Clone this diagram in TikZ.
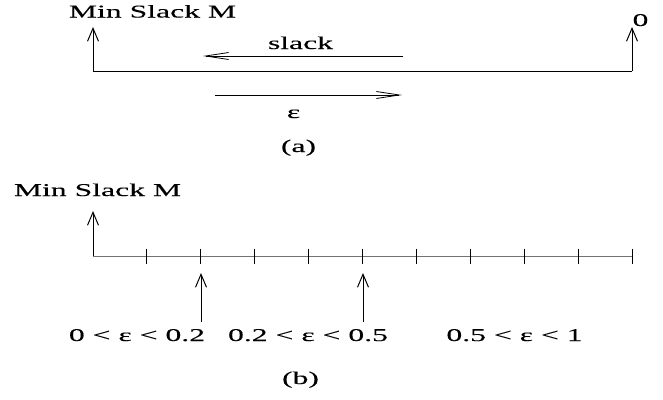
\documentclass[tikz,border=0pt]{standalone}
\usepackage{fontspec}
\setmainfont{Liberation Serif}[FakeStretch=1.76,FakeBold=0.15]
\usetikzlibrary{arrows.meta,calc}
\tikzset{
  lbl/.style={anchor=base, inner sep=0pt, font=\fontsize{18}{20}\selectfont},
  axis/.style={line width=1pt},
  uparrow/.style={line width=1pt, -{Straight Barb[length=13pt,width=11pt,line width=1pt]}},
  flatarrow/.style={line width=1pt, -{Straight Barb[length=23pt,width=7pt,line width=0.8pt]}},
}
\begin{document}
\begin{tikzpicture}[x=1pt,y=-1pt]
\useasboundingbox (0,0) rectangle (663,399);
\node[lbl] (minA) at (152.5,17.5) {Min Slack M};
\node[lbl] (zeroA) at (640.5,26) {0};
\node[lbl] (slackLbl) at (300.5,49) {slack};
\node[lbl] (epsLbl) at (293.5,118) {ε};
\node[lbl] (capA) at (298.5,152) {(a)};
\coordinate (oA) at (93,71);
\coordinate (eA) at (632,71);
\coordinate (tipLA) at (93,27);
\coordinate (tipRA) at (632,27);
\coordinate (slackFrom) at (403,56);
\coordinate (slackTo) at (203,56);
\coordinate (epsFrom) at (215,95);
\coordinate (epsTo) at (402,95);
\draw[axis] (oA) -- (eA);
\draw[uparrow] (oA) -- (tipLA);
\draw[uparrow] (eA) -- (tipRA);
\draw[flatarrow] (slackFrom) -- (slackTo);
\draw[flatarrow] (epsFrom) -- (epsTo);
\node[lbl] (minB) at (97.5,196) {Min Slack M};
\node[lbl] (rangeOne) at (137,341) {0 < ε < 0.2};
\node[lbl] (rangeTwo) at (308,341) {0.2 < ε < 0.5};
\node[lbl] (rangeThree) at (514.5,341) {0.5 < ε < 1};
\node[lbl] (capB) at (300.5,384) {(b)};
\coordinate (oB) at (93,256);
\coordinate (eB) at (632,256);
\coordinate (tipB) at (93,211);
\coordinate (markOne) at (201,273);
\coordinate (markTwo) at (363,273);
\draw[axis, black!55] (oB) -- (eB);
\foreach \i in {1,...,10}
  \draw[axis] ($(oB)+(\i*53.9,-7.5)$) -- ++(0,15);
\draw[uparrow] (oB) -- (tipB);
\draw[uparrow] (markOne |- rangeOne.north) ++(0,-7) coordinate (markOneFrom) (markOneFrom) -- (markOne);
\draw[uparrow] (markTwo |- rangeTwo.north) ++(0,-7) coordinate (markTwoFrom) (markTwoFrom) -- (markTwo);
\end{tikzpicture}
\end{document}
